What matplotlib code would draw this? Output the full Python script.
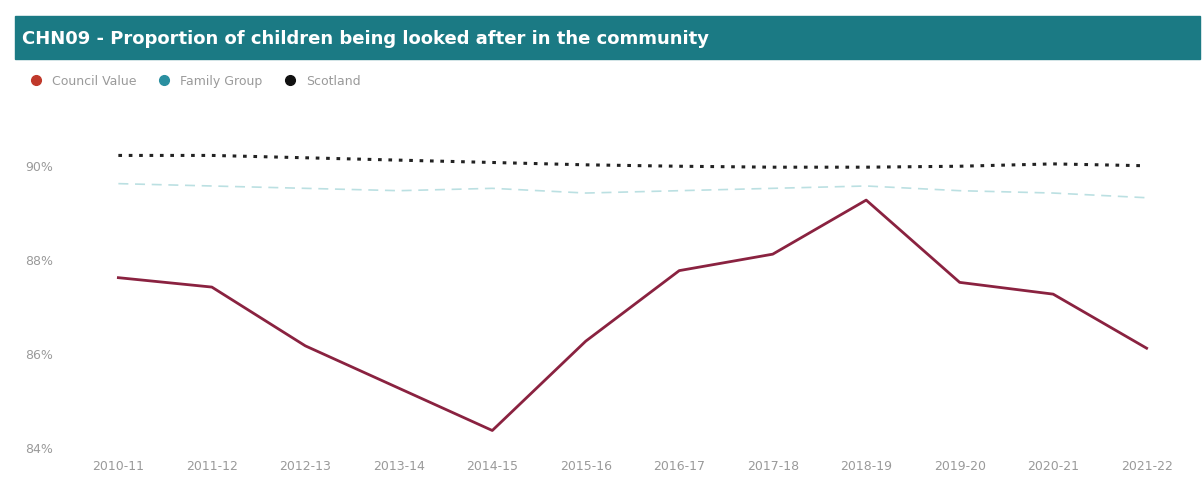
#!/usr/bin/env python3
"""Balance of care line chart: council vs family group vs Scotland."""

import matplotlib.pyplot as plt
from matplotlib.patches import Rectangle
from matplotlib.lines import Line2D

years = ["2010-11", "2011-12", "2012-13", "2013-14", "2014-15", "2015-16",
         "2016-17", "2017-18", "2018-19", "2019-20", "2020-21", "2021-22"]
council = [87.6, 87.4, 86.15, 85.25, 84.35, 86.25,
           87.75, 88.1, 89.25, 87.5, 87.25, 86.1]
family_group = [89.6, 89.55, 89.5, 89.45, 89.5, 89.4,
                89.45, 89.5, 89.55, 89.45, 89.4, 89.3]
scotland = [90.2, 90.2, 90.15, 90.1, 90.05, 90.0,
            89.97, 89.95, 89.95, 89.97, 90.02, 89.98]
y_ticks = [84, 86, 88, 90]

fig = plt.figure(figsize=(12.04, 4.89), dpi=100)
W, H = 1204, 489

# title banner
fig.patches.append(Rectangle((15 / W, 1 - 60 / H), 1185 / W, 43 / H,
                             transform=fig.transFigure, color="#1b7a84",
                             zorder=0))
fig.text(22 / W, 1 - 39 / H,
         "CHN09 - Proportion of children being looked after in the community",
         color="white", fontsize=13, fontweight="bold", va="center")

ax = fig.add_axes([95 / W, 1 - 455 / H, 1075 / W, 355 / H])
x = range(len(years))
ax.plot(x, family_group, color="#9fd3d6", lw=1.2, ls=(0, (6, 4)), alpha=0.7)
ax.plot(x, scotland, color="#222222", lw=2.2, ls=(0, (1.2, 2.2)))
ax.plot(x, council, color="#8a2240", lw=2)

ax.set_xlim(-0.25, len(years) - 0.75)
ax.set_ylim(83.85, 91.4)
ax.set_yticks(y_ticks)
ax.set_yticklabels([f"{v}%" for v in y_ticks])
ax.set_xticks(list(x))
ax.set_xticklabels(years)
ax.tick_params(length=0, labelsize=9, colors="#9a9a9a")
ax.tick_params(axis="y", pad=30)
for s in ax.spines.values():
    s.set_visible(False)

handles = [
    Line2D([], [], color="#c0392b", marker="o", ls="", ms=7),
    Line2D([], [], color="#2a8fa0", marker="o", ls="", ms=7),
    Line2D([], [], color="#111111", marker="o", ls="", ms=7),
]
fig.legend(handles, ["Council Value", "Family Group", "Scotland"],
           loc="upper left", bbox_to_anchor=(12 / W, 1 - 64 / H), ncol=3,
           frameon=False, fontsize=9, handletextpad=0.3, columnspacing=1.2,
           labelcolor="#9a9a9a")

fig.savefig("out.png", dpi=100)
